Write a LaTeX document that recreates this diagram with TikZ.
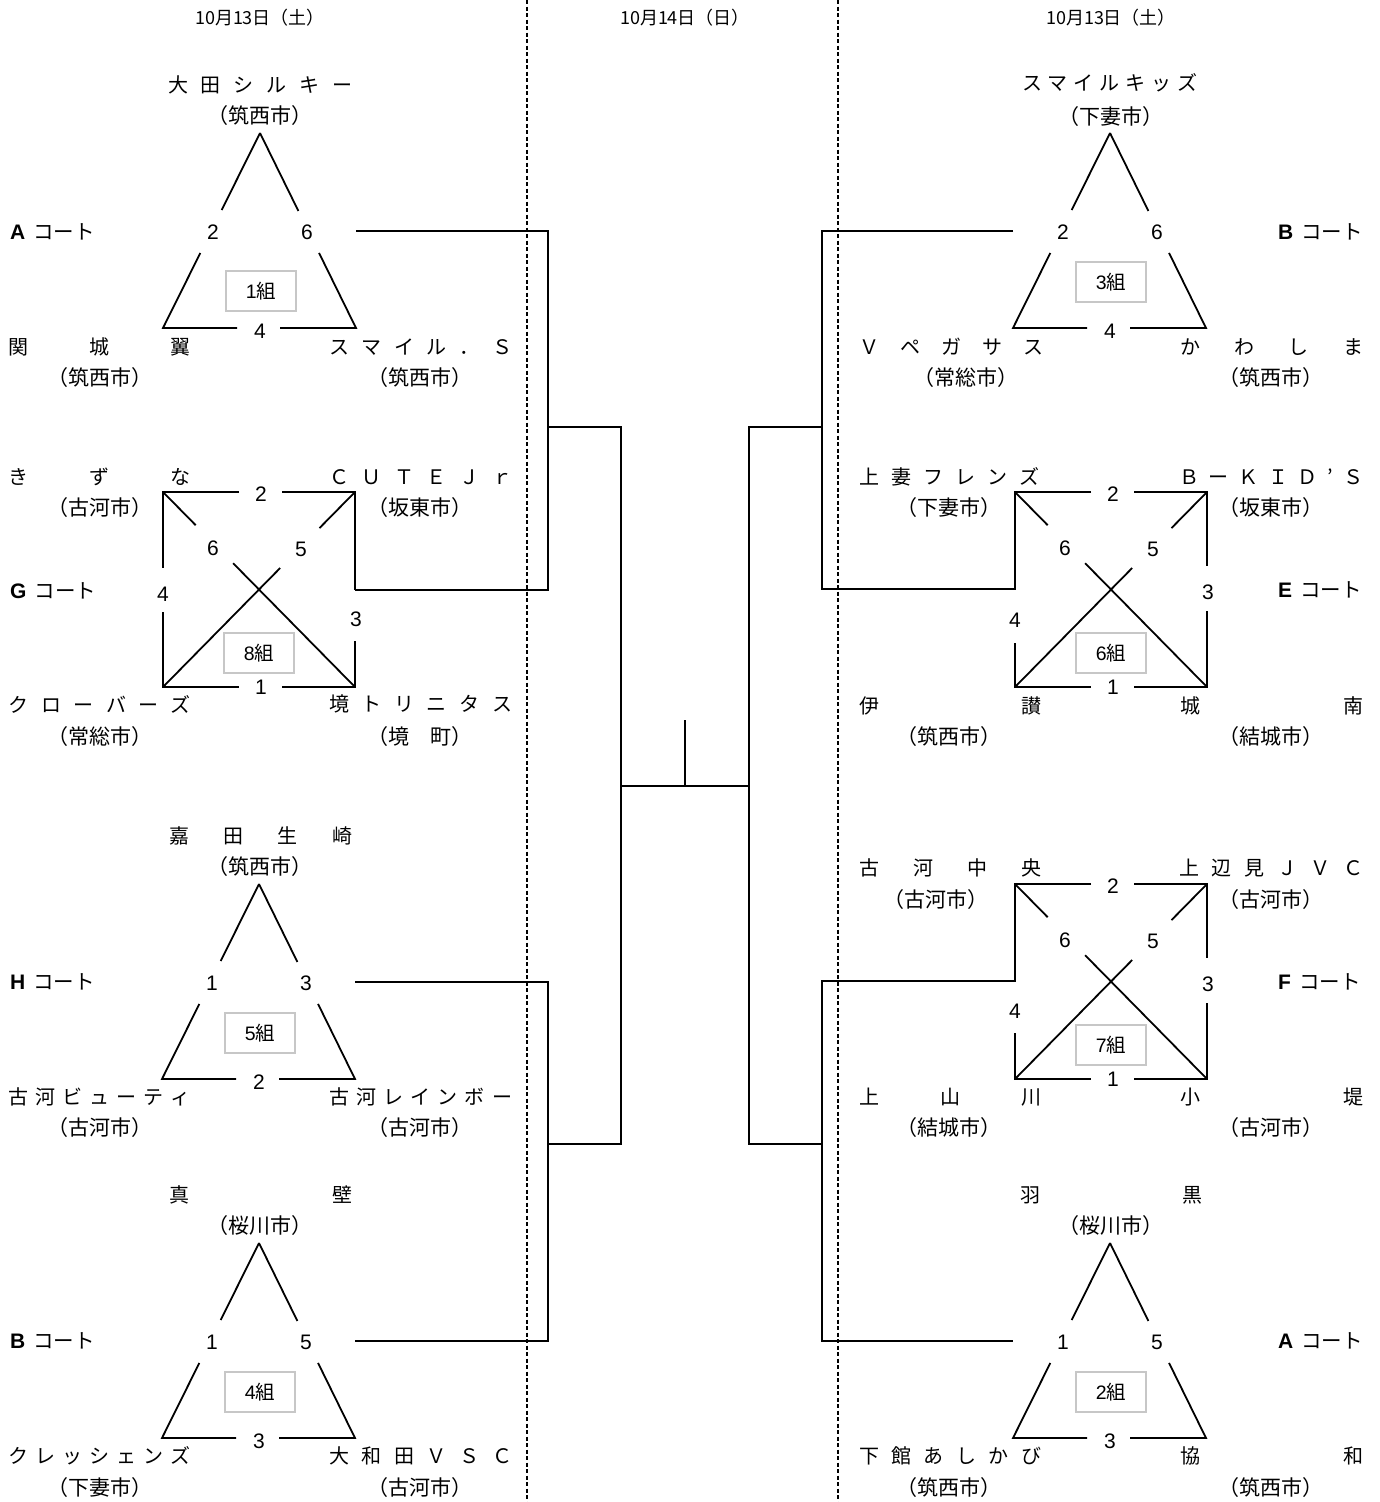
\documentclass[tikz,border=0pt]{standalone}
\usepackage{fontspec}
\setmainfont{Noto Sans CJK JP}
\newfontfamily\latin{Liberation Sans}
\usetikzlibrary{calc}
\makeatletter
\def\spreadchars#1{\spread@i#1\@nil}
\def\spread@i#1#2\@nil{#1\if\relax\detokenize{#2}\relax\else\hfill\spread@i#2\@nil\fi}
\makeatother
\newcommand\tname[2]{\makebox[#1pt][s]{\spreadchars{#2}}}
\tikzset{
 ln/.style={line width=1.8pt, line join=miter},
 dashln/.style={line width=1.5pt, dash pattern=on 4pt off 2.5pt},
 num/.style={font=\latin\fontsize{21}{21}\selectfont, inner sep=0pt},
 team/.style={font=\fontsize{20}{20}\selectfont, inner sep=0pt},
 city/.style={font=\fontsize{21}{21}\selectfont, inner sep=0pt},
 court/.style={anchor=west, inner sep=0pt, font=\fontsize{20.5}{20.5}\selectfont},
 datelbl/.style={font=\fontsize{18}{18}\selectfont, inner sep=0pt},
 grp/.style={draw=black!22, line width=1.3pt, fill=white, minimum width=70pt, minimum height=40pt, inner sep=0pt, font=\fontsize{19.5}{19.5}\selectfont},
}
\newcommand\courtlbl[1]{{\latin\bfseries\fontsize{21}{21}\selectfont #1}\hspace{8pt}コート}
\newcommand\tri[8]{%
\begin{scope}[shift={(#2,#3)}]
\coordinate (#1-apex) at (0,0);
\coordinate (#1-bl) at (-97,195);
\coordinate (#1-br) at (96,195);
\draw[ln] (#1-apex) -- ($(#1-apex)!0.395!(#1-bl)$) ($(#1-apex)!0.615!(#1-bl)$) -- (#1-bl) -- (-23,195) (20,195) -- (#1-br) -- ($(#1-apex)!0.615!(#1-br)$) ($(#1-apex)!0.4!(#1-br)$) -- (#1-apex);
\node[num] (#1-nl) at (-47,99) {#4};
\node[num] (#1-nr) at (47,99) {#5};
\node[num] (#1-nb) at (0,198) {#6};
\node[grp] (#1-box) at (1,#8) {#7};
\coordinate (#1-oR) at (96,98);
\coordinate (#1-oL) at (-97,98);
\end{scope}}
\newcommand\sq[8]{%
\begin{scope}[shift={(#2,#3)}]
\coordinate (#1-tl) at (0,0);
\coordinate (#1-tr) at (192,0);
\coordinate (#1-bl) at (0,195);
\coordinate (#1-br) at (192,195);
\draw[ln] (76,0) -- (#1-tl) -- (0,#5) (0,#6) -- (#1-bl) -- (76,195)
          (119,0) -- (#1-tr) -- (192,#7) (192,#8) -- (#1-br) -- (119,195);
\draw[ln] (#1-tl) -- ($(#1-tl)!0.17!(#1-br)$) ($(#1-tl)!0.365!(#1-br)$) -- (#1-br);
\draw[ln] (#1-tr) -- ($(#1-tr)!0.185!(#1-bl)$) ($(#1-tr)!0.39!(#1-bl)$) -- (#1-bl);
\node[num] (#1-n2) at (98,2) {2};
\node[num] (#1-n1) at (98,195) {1};
\node[num] (#1-n6) at (50,56) {6};
\node[num] (#1-n5) at (138,57) {5};
\node[num] (#1-n4) at (0,{(#5+#6)/2+4}) {4};
\node[num] (#1-n3) at (193,{(#7+#8)/2+4}) {3};
\node[grp] (#1-box) at (96,161) {#4};
\coordinate (#1-oR) at (192,98);
\coordinate (#1-oL) at (0,97);
\end{scope}}
\begin{document}
\begin{tikzpicture}[x=1pt,y=-1pt]
\fill[white] (0,0) rectangle (1379,1502);
\useasboundingbox (0,0) rectangle (1379,1502);
% dashed day separators
\coordinate (d1t) at (527,0); \coordinate (d1b) at (527,1502);
\coordinate (d2t) at (838,0); \coordinate (d2b) at (838,1502);
\draw[dashln] (d1t) -- (d1b);
\draw[dashln] (d2t) -- (d2b);
% dates
\node[datelbl] (dateL) at (260,18) {10月13日（土）};
\node[datelbl] (dateC) at (685,18) {10月14日（日）};
\node[datelbl] (dateR) at (1111,18) {10月13日（土）};

% ---------- 1組 ----------
\tri{g1}{260}{133}{2}{6}{4}{{\latin 1}組}{158}
\node[team] (t1a) at (260,85) {\tname{184}{大田シルキー}};
\node[city] (c1a) at (260,116) {（筑西市）};
\node[team] (t1b) at (100,347) {\tname{182}{関城翼}};
\node[city] (c1b) at (100,378) {（筑西市）};
\node[team] (t1c) at (420.5,347) {\tname{183}{スマイル．Ｓ}};
\node[city] (c1c) at (420,378) {（筑西市）};
\node[court] (ctA1) at (10,232) {\courtlbl{A}};

% ---------- 8組 ----------
\sq{g8}{163}{492}{{\latin 8}組}{76}{120}{98}{149}
\node[team] (t8a) at (100,477) {\tname{182}{きずな}};
\node[city] (c8a) at (100,508) {（古河市）};
\node[team] (t8b) at (420.5,477) {\tname{183}{ＣＵＴＥＪｒ}};
\node[city] (c8b) at (420,508) {（坂東市）};
\node[team] (t8c) at (100,704) {\tname{182}{クローバーズ}};
\node[city] (c8c) at (100,737) {（常総市）};
\node[team] (t8d) at (420.5,704) {\tname{183}{境トリニタス}};
\node[city] (c8d) at (420,737) {（境　町）};
\node[court] (ctG) at (10,591) {\courtlbl{G}};

% ---------- 5組 ----------
\tri{g5}{259}{884}{1}{3}{2}{{\latin 5}組}{149}
\node[team] (t5a) at (260.5,836) {\tname{183}{嘉田生崎}};
\node[city] (c5a) at (260,867) {（筑西市）};
\node[team] (t5b) at (100,1097) {\tname{182}{古河ビューティ}};
\node[city] (c5b) at (100,1128) {（古河市）};
\node[team] (t5c) at (420.5,1097) {\tname{183}{古河レインボー}};
\node[city] (c5c) at (420,1128) {（古河市）};
\node[court] (ctH) at (10,982) {\courtlbl{H}};

% ---------- 4組 ----------
\tri{g4}{259}{1243}{1}{5}{3}{{\latin 4}組}{149}
\node[team] (t4a) at (260.5,1195) {\tname{183}{真壁}};
\node[city] (c4a) at (260,1226) {（桜川市）};
\node[team] (t4b) at (100,1456) {\tname{182}{クレッシェンズ}};
\node[city] (c4b) at (100,1488) {（下妻市）};
\node[team] (t4c) at (420.5,1456) {\tname{183}{大和田ＶＳＣ}};
\node[city] (c4c) at (420,1488) {（古河市）};
\node[court] (ctB1) at (10,1341) {\courtlbl{B}};

% ---------- 3組 ----------
\tri{g3}{1110}{133}{2}{6}{4}{{\latin 3}組}{149}
\node[team] (t3a) at (1109.5,83) {\tname{175}{スマイルキッズ}};
\node[city] (c3a) at (1111,117) {（下妻市）};
\node[team] (t3b) at (951,347) {\tname{184}{Ｖペガサス}};
\node[city] (c3b) at (966,378) {（常総市）};
\node[team] (t3c) at (1271.5,347) {\tname{183}{かわしま}};
\node[city] (c3c) at (1271,378) {（筑西市）};
\node[court] (ctB2) at (1278,232) {\courtlbl{B}};

% ---------- 6組 ----------
\sq{g6}{1015}{492}{{\latin 6}組}{98}{151}{74}{119}
\node[team] (t6a) at (949,477) {\tname{180}{上妻フレンズ}};
\node[city] (c6a) at (949,508) {（下妻市）};
\node[team] (t6b) at (1271,477) {\tname{184}{ＢーＫＩＤ’Ｓ}};
\node[city] (c6b) at (1271,508) {（坂東市）};
\node[team] (t6c) at (950,706) {\tname{182}{伊讃}};
\node[city] (c6c) at (949,737) {（筑西市）};
\node[team] (t6d) at (1271.5,706) {\tname{183}{城南}};
\node[city] (c6d) at (1271,737) {（結城市）};
\node[court] (ctE) at (1278,590) {\courtlbl{E}};

% ---------- 7組 ----------
\sq{g7}{1015}{884}{{\latin 7}組}{98}{149}{74}{119}
\node[team] (t7a) at (950,868) {\tname{182}{古河中央}};
\node[city] (c7a) at (936,900) {（古河市）};
\node[team] (t7b) at (1271,868) {\tname{184}{上辺見ＪＶＣ}};
\node[city] (c7b) at (1271,900) {（古河市）};
\node[team] (t7c) at (950,1097) {\tname{182}{上山川}};
\node[city] (c7c) at (949,1128) {（結城市）};
\node[team] (t7d) at (1271.5,1097) {\tname{183}{小堤}};
\node[city] (c7d) at (1271,1128) {（古河市）};
\node[court] (ctF) at (1278,982) {\courtlbl{F}};

% ---------- 2組 ----------
\tri{g2}{1110}{1243}{1}{5}{3}{{\latin 2}組}{149}
\node[team] (t2a) at (1111,1195) {\tname{182}{羽黒}};
\node[city] (c2a) at (1111,1226) {（桜川市）};
\node[team] (t2b) at (950,1456) {\tname{182}{下館あしかび}};
\node[city] (c2b) at (949,1488) {（筑西市）};
\node[team] (t2c) at (1271.5,1456) {\tname{183}{協和}};
\node[city] (c2c) at (1271,1488) {（筑西市）};
\node[court] (ctA2) at (1278,1341) {\courtlbl{A}};

% ---------- bracket ----------
\coordinate (bL1) at (548,427);
\coordinate (bL2) at (548,1144);
\coordinate (bR1) at (822,427);
\coordinate (bR2) at (822,1144);
\coordinate (fL1) at (621,427);
\coordinate (fL2) at (621,1144);
\coordinate (fR1) at (749,427);
\coordinate (fR2) at (749,1144);
\coordinate (fm) at (685,786);
\coordinate (ftop) at (685,720);
\draw[ln] (g1-oR) -| (bL1) |- (g8-oR);
\draw[ln] (g5-oR) -| (bL2) |- (g4-oR);
\draw[ln] (g3-oL) -| (bR1) |- (g6-oL);
\draw[ln] (g7-oL) -| (bR2) |- (g2-oL);
\draw[ln] (bL1) -- (fL1) -- (fL2) -- (bL2);
\draw[ln] (bR1) -- (fR1) -- (fR2) -- (bR2);
\draw[ln] (fL1 |- fm) -- (fR1 |- fm);
\draw[ln] (fm) -- (ftop);
\end{tikzpicture}
\end{document}
